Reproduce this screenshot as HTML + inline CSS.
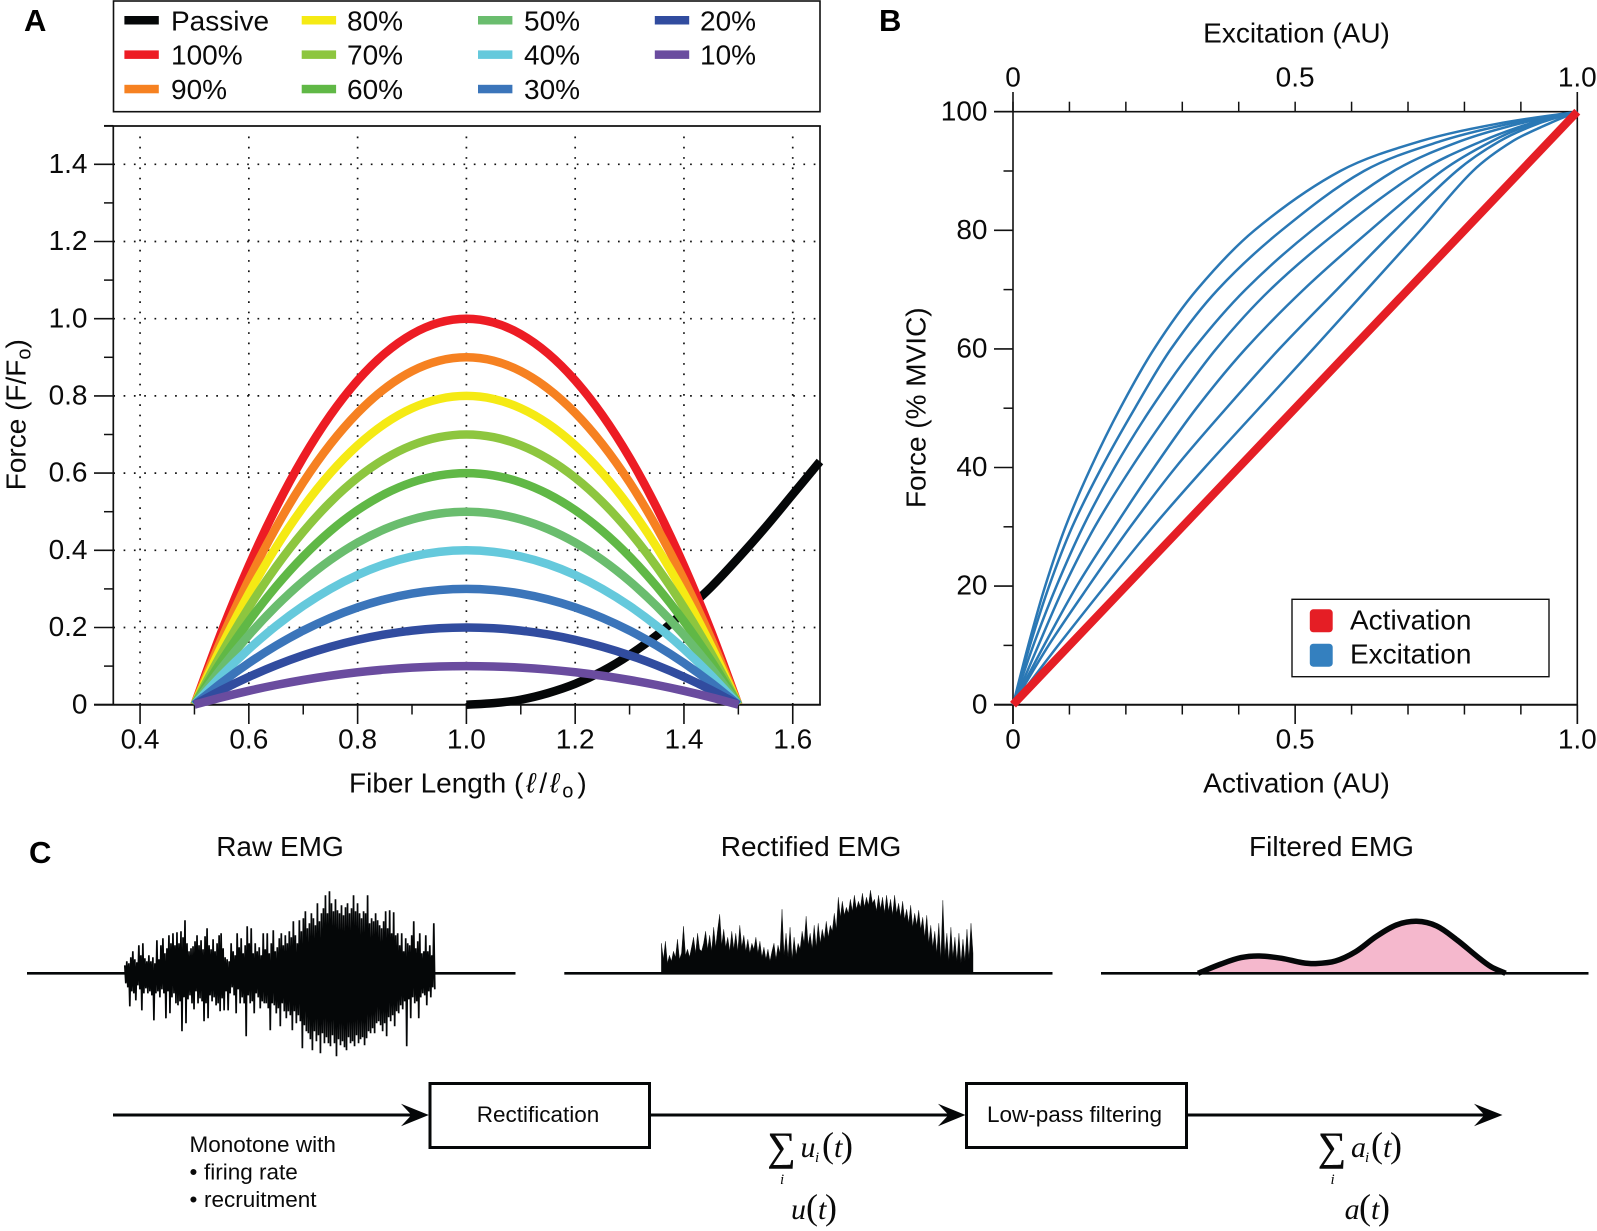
<!DOCTYPE html>
<html lang="en">
<head>
<meta charset="utf-8">
<title>Muscle force, activation and EMG processing</title>
<style>
html,body{margin:0;padding:0;background:#fff;}
body{width:1597px;height:1231px;overflow:hidden;}
svg{display:block;}
text{font-family:"Liberation Sans",sans-serif;fill:#0a0a0a;}
.t{font-size:28px;}
.panel{font-size:31px;font-weight:bold;fill:#000;}
.s{font-size:22.5px;}
.m{font-family:"Liberation Serif",serif;font-style:italic;font-size:30px;}
.p{font-family:"Liberation Serif",serif;font-size:36px;}
.sg{font-family:"Liberation Serif",serif;font-size:40px;stroke:#0a0a0a;stroke-width:0.5px;}
.sb{font-family:"Liberation Serif",serif;font-style:italic;font-size:15px;}
</style>
</head>
<body>
<svg id="fig" xmlns="http://www.w3.org/2000/svg" width="1597" height="1231" viewBox="0 0 1597 1231">
  <rect x="0" y="0" width="1597" height="1231" fill="#fff"/>

  <text class="panel" x="24" y="31">A</text>
  <text class="panel" x="879" y="31">B</text>
  <text class="panel" x="29" y="863">C</text>

  <g>
    <rect x="113.5" y="1" width="706.5" height="110.7" fill="#fff" stroke="#111" stroke-width="1.6"/>
    <rect x="124.4" y="16" width="34.4" height="8.5" fill="#050708"/>
    <text class="t" x="171" y="30.7">Passive</text>
    <rect x="124.4" y="50.4" width="34.4" height="8.5" fill="#ed1c24"/>
    <text class="t" x="171" y="64.6">100%</text>
    <rect x="124.4" y="84.8" width="34.4" height="8.5" fill="#f68121"/>
    <text class="t" x="171" y="98.8">90%</text>
    <rect x="301.7" y="16" width="34.4" height="8.5" fill="#f5ea14"/>
    <text class="t" x="347" y="30.7">80%</text>
    <rect x="301.7" y="50.4" width="34.4" height="8.5" fill="#8dc63f"/>
    <text class="t" x="347" y="64.6">70%</text>
    <rect x="301.7" y="84.8" width="34.4" height="8.5" fill="#60b846"/>
    <text class="t" x="347" y="98.8">60%</text>
    <rect x="478" y="16" width="34.4" height="8.5" fill="#6abd6e"/>
    <text class="t" x="524" y="30.7">50%</text>
    <rect x="478" y="50.4" width="34.4" height="8.5" fill="#65c9dc"/>
    <text class="t" x="524" y="64.6">40%</text>
    <rect x="478" y="84.8" width="34.4" height="8.5" fill="#3b75ba"/>
    <text class="t" x="524" y="98.8">30%</text>
    <rect x="654.8" y="16" width="34.4" height="8.5" fill="#314c9f"/>
    <text class="t" x="700" y="30.7">20%</text>
    <rect x="654.8" y="50.4" width="34.4" height="8.5" fill="#6a4c9f"/>
    <text class="t" x="700" y="64.6">10%</text>
  </g>

  <g id="panelA"></g>
  <text class="t" x="349" y="792.7">Fiber Length (<tspan font-style="italic" dx="3">ℓ</tspan><tspan dx="4">/</tspan><tspan font-style="italic" dx="3">ℓ</tspan><tspan font-size="20" dy="5" dx="3">o</tspan><tspan dy="-5" dx="4">)</tspan></text>
  <text class="t" transform="translate(25.4,414.7) rotate(-90)" text-anchor="middle">Force (F/F<tspan font-size="20" dy="5">o</tspan><tspan dy="-5">)</tspan></text>

  <g id="panelB"></g>
  <text class="t" x="1296.5" y="42.7" text-anchor="middle">Excitation (AU)</text>
  <text class="t" x="1296.5" y="792.7" text-anchor="middle">Activation (AU)</text>
  <text class="t" transform="translate(925.7,407.7) rotate(-90)" text-anchor="middle">Force (% MVIC)</text>

  <g>
    <rect x="1292" y="599.3" width="257" height="77.4" fill="#fff" stroke="#111" stroke-width="1.4"/>
    <rect x="1309.8" y="609.3" width="22.9" height="23" rx="3.5" fill="#e51e25"/>
    <text class="t" x="1350" y="629.3">Activation</text>
    <rect x="1309.8" y="643.7" width="22.9" height="23" rx="3.5" fill="#3480bf"/>
    <text class="t" x="1350" y="663.3">Excitation</text>
  </g>

  <text class="t" x="280" y="856" text-anchor="middle">Raw EMG</text>
  <text class="t" x="811" y="856" text-anchor="middle">Rectified EMG</text>
  <text class="t" x="1331.5" y="856" text-anchor="middle">Filtered EMG</text>

  <g id="panelC"></g>

  <g stroke="#050708">
    <line x1="113" y1="1115" x2="412" y2="1115" stroke-width="3"/>
    <polygon points="401,1103.7 428.8,1115 401,1126.3 411.5,1115" fill="#050708" stroke="none"/>
    <rect x="430" y="1083.5" width="219.5" height="64" fill="#fff" stroke-width="3"/>
    <line x1="650.8" y1="1115" x2="949" y2="1115" stroke-width="3"/>
    <polygon points="938,1103.7 965.5,1115 938,1126.3 948.5,1115" fill="#050708" stroke="none"/>
    <rect x="966.5" y="1083.5" width="220" height="64" fill="#fff" stroke-width="3"/>
    <line x1="1187.6" y1="1115" x2="1485" y2="1115" stroke-width="3"/>
    <polygon points="1474,1103.7 1502.5,1115 1474,1126.3 1484.5,1115" fill="#050708" stroke="none"/>
  </g>
  <text class="s" x="538" y="1122" text-anchor="middle">Rectification</text>
  <text class="s" x="1074.5" y="1122" text-anchor="middle">Low-pass filtering</text>
  <text class="s" x="189.5" y="1152">Monotone with</text>
  <text class="s" x="189.5" y="1179.5">•</text>
  <text class="s" x="204" y="1179.5">firing rate</text>
  <text class="s" x="189.5" y="1207">•</text>
  <text class="s" x="204" y="1207">recruitment</text>

  <g>
    <text class="sg" x="767.5" y="1160" textLength="28" lengthAdjust="spacingAndGlyphs">∑</text>
    <text class="m" x="800.5" y="1157">u</text>
    <text class="sb" x="815" y="1162">i</text>
    <text class="p" x="822" y="1157">(</text>
    <text class="m" x="834" y="1157">t</text>
    <text class="p" x="841" y="1157">)</text>
    <text class="sb" x="780" y="1184">i</text>
  </g>
  <g>
    <text class="m" x="791" y="1219">u</text>
    <text class="p" x="806" y="1219">(</text>
    <text class="m" x="818" y="1219">t</text>
    <text class="p" x="825" y="1219">)</text>
  </g>
  <g>
    <text class="sg" x="1318" y="1160" textLength="28" lengthAdjust="spacingAndGlyphs">∑</text>
    <text class="m" x="1351" y="1157">a</text>
    <text class="sb" x="1365" y="1162">i</text>
    <text class="p" x="1371" y="1157">(</text>
    <text class="m" x="1383" y="1157">t</text>
    <text class="p" x="1390" y="1157">)</text>
    <text class="sb" x="1330.5" y="1184">i</text>
  </g>
  <g>
    <text class="m" x="1344.6" y="1219">a</text>
    <text class="p" x="1359" y="1219">(</text>
    <text class="m" x="1371" y="1219">t</text>
    <text class="p" x="1378" y="1219">)</text>
  </g>
</svg>
<script>
// ---------- Panel A data ----------
const fiberLengths = [0.5,0.55,0.6,0.65,0.7,0.75,0.8,0.85,0.9,0.95,1,1.05,1.1,1.15,1.2,1.25,1.3,1.35,1.4,1.45,1.5];
const force100 = [0,.19,.36,.51,.64,.75,.84,.91,.96,.99,1,.99,.96,.91,.84,.75,.64,.51,.36,.19,0];
const force90 = [0,.171,.324,.459,.576,.675,.756,.819,.864,.891,.9,.891,.864,.819,.756,.675,.576,.459,.324,.171,0];
const force80 = [0,.152,.288,.408,.512,.6,.672,.728,.768,.792,.8,.792,.768,.728,.672,.6,.512,.408,.288,.152,0];
const force70 = [0,.133,.252,.357,.448,.525,.588,.637,.672,.693,.7,.693,.672,.637,.588,.525,.448,.357,.252,.133,0];
const force60 = [0,.114,.216,.306,.384,.45,.504,.546,.576,.594,.6,.594,.576,.546,.504,.45,.384,.306,.216,.114,0];
const force50 = [0,.095,.18,.255,.32,.375,.42,.455,.48,.495,.5,.495,.48,.455,.42,.375,.32,.255,.18,.095,0];
const force40 = [0,.076,.144,.204,.256,.3,.336,.364,.384,.396,.4,.396,.384,.364,.336,.3,.256,.204,.144,.076,0];
const force30 = [0,.057,.108,.153,.192,.225,.252,.273,.288,.297,.3,.297,.288,.273,.252,.225,.192,.153,.108,.057,0];
const force20 = [0,.038,.072,.102,.128,.15,.168,.182,.192,.198,.2,.198,.192,.182,.168,.15,.128,.102,.072,.038,0];
const force10 = [0,.019,.036,.051,.064,.075,.084,.091,.096,.099,.1,.099,.096,.091,.084,.075,.064,.051,.036,.019,0];
const passiveLengths = [1,1.05,1.1,1.15,1.2,1.25,1.3,1.35,1.4,1.45,1.5,1.55,1.6,1.65];
const passiveForce = [0,.004,.013,.03,.054,.087,.129,.18,.24,.305,.38,.46,.545,.63];
const lengthMajorTicks = ['0.4','0.6','0.8','1.0','1.2','1.4','1.6'];
const lengthMinorTicks = ['0.5','0.7','0.9','1.1','1.3','1.5'];
const forceMajorTicks = ['0','0.2','0.4','0.6','0.8','1.0','1.2','1.4'];
const forceMinorTicks = ['0.1','0.3','0.5','0.7','0.9','1.1','1.3','1.5'];

// ---------- Panel B data ----------
const forceLevels = [0,10,20,30,40,50,60,70,80,90,95,98,100];
const excitationCurve1 = [0,.027,.057,.093,.138,.19,.25,.326,.428,.58,.721,.86,1];
const excitationCurve2 = [0,.03,.064,.105,.157,.216,.28,.363,.476,.622,.757,.881,1];
const excitationCurve3 = [0,.036,.077,.124,.18,.245,.32,.412,.53,.675,.792,.898,1];
const excitationCurve4 = [0,.045,.091,.145,.21,.282,.36,.456,.578,.722,.83,.916,1];
const excitationCurve5 = [0,.055,.113,.18,.25,.325,.412,.515,.633,.76,.848,.922,1];
const excitationCurve6 = [0,.063,.134,.208,.288,.378,.472,.574,.677,.786,.862,.931,1];
const excitationCurve7 = [0,.08,.163,.248,.34,.436,.532,.627,.722,.815,.885,.95,1];
const activationValues = [0,1];
const activationForce = [0,100];
const activationTicks = ['0','0.5','1.0'];
const activationMinorTicks = ['0.1','0.2','0.3','0.4','0.6','0.7','0.8','0.9'];
const percentMajorTicks = ['0','20','40','60','80','100'];
const percentMinorTicks = ['10','30','50','70','90'];

// ---------- Panel C data ----------
const rawUpper = [8,12,10,16,22,14,11,28,18,30,15,12,18,12,16,10,33,14,28,35,20,25,38,30,40,28,41,30,42,36,53,30,22,25,27,32,38,28,33,24,37,45,28,24,34,22,30,38,40,25,16,14,12,30,22,18,40,26,35,20,28,47,30,45,20,30,22,26,18,40,24,40,20,30,43,22,26,35,40,28,38,30,42,36,52,38,30,53,42,55,62,45,50,60,55,48,70,52,60,65,78,60,82,70,62,74,63,60,68,58,66,70,60,65,78,62,70,60,55,62,60,78,50,55,52,60,53,48,45,52,62,45,63,40,61,38,40,28,40,22,35,30,28,38,52,25,32,40,20,22,38,22,28,18,50];
const rawLower = [10,14,33,18,20,27,12,16,37,20,15,20,18,22,47,20,18,24,16,20,45,18,40,24,20,30,32,28,58,24,50,26,22,30,36,18,30,25,28,48,30,45,22,28,24,32,30,38,25,37,18,37,20,14,22,40,16,30,24,30,63,22,30,28,40,20,24,35,28,30,30,35,57,30,32,40,35,53,30,38,45,38,42,57,38,50,42,48,75,52,58,60,66,77,58,68,62,80,60,70,64,70,73,62,70,83,66,72,68,74,77,64,70,68,73,62,70,66,64,72,65,58,60,55,60,50,48,52,58,50,63,44,48,42,53,38,40,32,36,28,73,26,45,24,30,28,45,24,20,22,32,18,24,14,16];
const rectifiedValues = [30,14,32,10,18,12,22,16,34,14,20,47,18,24,16,26,36,20,40,24,22,30,42,24,38,22,46,26,44,59,28,44,26,36,22,42,24,40,22,48,26,38,22,34,20,30,24,36,20,32,16,26,14,24,12,22,30,14,28,20,64,18,40,16,46,14,36,18,30,24,42,30,57,28,40,24,48,26,50,30,44,34,52,36,48,42,60,44,76,56,72,58,66,60,74,62,78,64,72,66,80,66,76,68,83,70,74,62,78,64,76,60,78,62,74,58,78,60,70,56,72,54,64,50,68,46,60,48,63,44,56,36,58,30,48,26,42,20,50,14,73,18,40,12,46,16,36,12,40,10,34,12,44,14,50,20];
const filteredTime = [0,.075,.14,.2,.272,.338,.382,.447,.513,.579,.645,.711,.776,.842,.908,.952,1];
const filteredAmplitude = [0,9.3,15.7,17.3,15,10.7,9.7,12.3,21.7,36.7,48.3,52,47.3,33.3,16.7,6.7,0];

// ---------- Axis functions ----------
const NS = 'http://www.w3.org/2000/svg';
const xA = v => 466.4 + (v - 1) * 543.9;
const yA = v => 704.7 - v * 386;
const xB = v => 1013 + v * 564.3;
const yB = v => 704.7 - v * 5.93;
const EMG_BASE = 973.3;
const emgY = v => EMG_BASE - v;
const rawX = i => 124.8 + i * 309 / (rawUpper.length - 1);
const rectX = i => 661.4 + i * 311.6 / (rectifiedValues.length - 1);
const filtX = t => 1198 + t * 307.6;

function mk(parent, tag, attrs, text) {
  const el = document.createElementNS(NS, tag);
  Object.keys(attrs).forEach(k => el.setAttribute(k, attrs[k]));
  if (text !== undefined) el.textContent = text;
  parent.appendChild(el);
  return el;
}
function chord(a, b) {
  return Math.hypot(b[0] - a[0], b[1] - a[1]) || 1;
}
function smooth(pts) {
  let d = 'M' + pts[0][0].toFixed(2) + ' ' + pts[0][1].toFixed(2);
  for (let i = 0; i < pts.length - 1; i++) {
    const p0 = pts[Math.max(i - 1, 0)], p1 = pts[i], p2 = pts[i + 1], p3 = pts[Math.min(i + 2, pts.length - 1)];
    const d1 = chord(p1, p2);
    const s1 = chord(p0, p1) + d1, s2 = d1 + chord(p2, p3);
    const c1x = p1[0] + (p2[0] - p0[0]) / s1 * d1 / 3, c1y = p1[1] + (p2[1] - p0[1]) / s1 * d1 / 3;
    const c2x = p2[0] - (p3[0] - p1[0]) / s2 * d1 / 3, c2y = p2[1] - (p3[1] - p1[1]) / s2 * d1 / 3;
    d += 'C' + c1x.toFixed(2) + ' ' + c1y.toFixed(2) + ' ' + c2x.toFixed(2) + ' ' + c2y.toFixed(2) + ' ' + p2[0].toFixed(2) + ' ' + p2[1].toFixed(2);
  }
  return d;
}
function line(parent, x1, y1, x2, y2, w, name) {
  const l = mk(parent, 'line', {x1: x1, y1: y1, x2: x2, y2: y2, stroke: '#111', 'stroke-width': w});
  
  
  return l;
}
function label(parent, x, y, anchor, str, name) {
  const t = mk(parent, 'text', {x: x, y: y, 'text-anchor': anchor, class: 't'}, str);
  
  
  return t;
}

// ---------- Panel A ----------
const gA = document.getElementById('panelA');
const gridA = mk(gA, 'g', {stroke: '#111', 'stroke-width': 1.7, 'stroke-dasharray': '1.7 8.6'});


lengthMajorTicks.forEach(s => {
  line(gridA, xA(+s), 704.7, xA(+s), 128, 1.7, 'vertical-gridline-' + s);
});
forceMajorTicks.slice(1).forEach(s => {
  line(gridA, 113.3, yA(+s), 820, yA(+s), 1.7, 'horizontal-gridline-' + s);
});
gridA.querySelectorAll('line').forEach(l => l.removeAttribute('stroke'));
gridA.querySelectorAll('line').forEach(l => l.removeAttribute('stroke-width'));

line(gA, 113.3, 125.5, 113.3, 705.5, 1.7, 'y-axis-line');
line(gA, 94, 704.7, 820.8, 704.7, 2, 'x-axis-line');
line(gA, 104, 126, 820.8, 126, 1.7, 'plot-top-border');
line(gA, 820, 125.5, 820, 705.5, 1.7, 'plot-right-border');
lengthMajorTicks.forEach(s => {
  line(gA, xA(+s), 704.7, xA(+s), 724, 1.6, 'x-tick-' + s);
  label(gA, xA(+s), 748.3, 'middle', s, 'x-tick-label-' + s);
});
lengthMinorTicks.forEach(s => {
  line(gA, xA(+s), 704.7, xA(+s), 714.5, 1.5, 'x-minor-tick-' + s);
});
forceMajorTicks.forEach(s => {
  line(gA, 94, yA(+s), 113.3, yA(+s), 1.6, 'y-tick-' + s);
  label(gA, 87.5, yA(+s) + 8.6, 'end', s, 'y-tick-label-' + s);
});
forceMinorTicks.forEach(s => {
  line(gA, 104, yA(+s), 113.3, yA(+s), 1.5, 'y-minor-tick-' + s);
});

const passivePath = mk(gA, 'path', {d: smooth(passiveLengths.map((v, i) => [xA(v), yA(passiveForce[i])])), fill: 'none', stroke: '#050708', 'stroke-width': 8.5});



const curve100 = mk(gA, 'path', {d: smooth(fiberLengths.map((v, i) => [xA(v), yA(force100[i])])), fill: 'none', stroke: '#ed1c24', 'stroke-width': 8.5});


const curve90 = mk(gA, 'path', {d: smooth(fiberLengths.map((v, i) => [xA(v), yA(force90[i])])), fill: 'none', stroke: '#f68121', 'stroke-width': 8.5});


const curve80 = mk(gA, 'path', {d: smooth(fiberLengths.map((v, i) => [xA(v), yA(force80[i])])), fill: 'none', stroke: '#f5ea14', 'stroke-width': 8.5});


const curve70 = mk(gA, 'path', {d: smooth(fiberLengths.map((v, i) => [xA(v), yA(force70[i])])), fill: 'none', stroke: '#8dc63f', 'stroke-width': 8.5});


const curve60 = mk(gA, 'path', {d: smooth(fiberLengths.map((v, i) => [xA(v), yA(force60[i])])), fill: 'none', stroke: '#60b846', 'stroke-width': 8.5});


const curve50 = mk(gA, 'path', {d: smooth(fiberLengths.map((v, i) => [xA(v), yA(force50[i])])), fill: 'none', stroke: '#6abd6e', 'stroke-width': 8.5});


const curve40 = mk(gA, 'path', {d: smooth(fiberLengths.map((v, i) => [xA(v), yA(force40[i])])), fill: 'none', stroke: '#65c9dc', 'stroke-width': 8.5});


const curve30 = mk(gA, 'path', {d: smooth(fiberLengths.map((v, i) => [xA(v), yA(force30[i])])), fill: 'none', stroke: '#3b75ba', 'stroke-width': 8.5});


const curve20 = mk(gA, 'path', {d: smooth(fiberLengths.map((v, i) => [xA(v), yA(force20[i])])), fill: 'none', stroke: '#314c9f', 'stroke-width': 8.5});


const curve10 = mk(gA, 'path', {d: smooth(fiberLengths.map((v, i) => [xA(v), yA(force10[i])])), fill: 'none', stroke: '#6a4c9f', 'stroke-width': 8.5});



// ---------- Panel B ----------
const gB = document.getElementById('panelB');
line(gB, 994, yB(100), 1577.3, yB(100), 1.6, 'top-axis-line');
line(gB, 994, yB(0), 1577.3, yB(0), 2, 'bottom-axis-line');
line(gB, xB(0), 92, xB(0), 724, 1.6, 'left-axis-line');
line(gB, xB(1), 92, xB(1), 724, 1.6, 'right-axis-line');
percentMajorTicks.forEach(s => {
  line(gB, 994, yB(+s), 1013, yB(+s), 1.6, 'percent-tick-' + s);
  label(gB, 987.5, yB(+s) + 8.6, 'end', s, 'percent-tick-label-' + s);
});
percentMinorTicks.forEach(s => {
  line(gB, 1003.5, yB(+s), 1013, yB(+s), 1.5, 'percent-minor-tick-' + s);
});
activationTicks.forEach(s => {
  line(gB, xB(+s), yB(0), xB(+s), 724, 1.6, 'activation-tick-' + s);
  label(gB, xB(+s), 748.3, 'middle', s, 'activation-tick-label-' + s);
  line(gB, xB(+s), yB(100) - 10, xB(+s), yB(100), 1.5, 'excitation-tick-' + s);
  label(gB, xB(+s), 86.7, 'middle', s, 'excitation-tick-label-' + s);
});
activationMinorTicks.forEach(s => {
  line(gB, xB(+s), yB(0), xB(+s), 714.5, 1.5, 'activation-minor-tick-' + s);
  line(gB, xB(+s), yB(100) - 10, xB(+s), yB(100), 1.5, 'excitation-minor-tick-' + s);
});

const exc1 = mk(gB, 'path', {d: smooth(forceLevels.map((f, i) => [xB(excitationCurve1[i]), yB(f)])), fill: 'none', stroke: '#2a78b5', 'stroke-width': 2.5});


const exc2 = mk(gB, 'path', {d: smooth(forceLevels.map((f, i) => [xB(excitationCurve2[i]), yB(f)])), fill: 'none', stroke: '#2a78b5', 'stroke-width': 2.5});


const exc3 = mk(gB, 'path', {d: smooth(forceLevels.map((f, i) => [xB(excitationCurve3[i]), yB(f)])), fill: 'none', stroke: '#2a78b5', 'stroke-width': 2.5});


const exc4 = mk(gB, 'path', {d: smooth(forceLevels.map((f, i) => [xB(excitationCurve4[i]), yB(f)])), fill: 'none', stroke: '#2a78b5', 'stroke-width': 2.5});


const exc5 = mk(gB, 'path', {d: smooth(forceLevels.map((f, i) => [xB(excitationCurve5[i]), yB(f)])), fill: 'none', stroke: '#2a78b5', 'stroke-width': 2.5});


const exc6 = mk(gB, 'path', {d: smooth(forceLevels.map((f, i) => [xB(excitationCurve6[i]), yB(f)])), fill: 'none', stroke: '#2a78b5', 'stroke-width': 2.5});


const exc7 = mk(gB, 'path', {d: smooth(forceLevels.map((f, i) => [xB(excitationCurve7[i]), yB(f)])), fill: 'none', stroke: '#2a78b5', 'stroke-width': 2.5});



const activationLine = mk(gB, 'line', {x1: xB(activationValues[0]), y1: yB(activationForce[0]), x2: xB(activationValues[1]), y2: yB(activationForce[1]), stroke: '#e51e25', 'stroke-width': 8.2});



// ---------- Panel C ----------
const gC = document.getElementById('panelC');
const base1 = line(gC, 27, EMG_BASE, 515.5, EMG_BASE, 2.7, 'raw-emg-baseline');
base1.setAttribute('stroke', '#050708');
const base2 = line(gC, 564.3, EMG_BASE, 1052.5, EMG_BASE, 2.7, 'rectified-emg-baseline');
base2.setAttribute('stroke', '#050708');

let rawD = '';
rawUpper.forEach((u, i) => {
  rawD += (i ? 'L' : 'M') + rawX(i).toFixed(2) + ' ' + emgY(u).toFixed(2);
  rawD += 'L' + (rawX(i) + 1).toFixed(2) + ' ' + emgY(-rawLower[i]).toFixed(2);
});
const rawTrace = mk(gC, 'path', {d: rawD, fill: 'none', stroke: '#050708', 'stroke-width': 1.7, 'stroke-linejoin': 'bevel'});



let rectD = 'M' + rectX(0).toFixed(2) + ' ' + EMG_BASE;
rectifiedValues.forEach((v, i) => {
  rectD += 'L' + rectX(i).toFixed(2) + ' ' + emgY(v).toFixed(2);
});
rectD += 'L' + rectX(rectifiedValues.length - 1).toFixed(2) + ' ' + EMG_BASE + 'Z';
const rectTrace = mk(gC, 'path', {d: rectD, fill: '#050708', stroke: '#050708', 'stroke-width': 0.4});



const filteredPts = filteredTime.map((t, i) => [filtX(t), emgY(filteredAmplitude[i])]);
const filteredArea = mk(gC, 'path', {d: smooth(filteredPts) + 'Z', fill: '#f5b8cd', stroke: 'none'});


const base3 = line(gC, 1101, EMG_BASE, 1588.5, EMG_BASE, 2.7, 'filtered-emg-baseline');
base3.setAttribute('stroke', '#050708');
const filteredLine = mk(gC, 'path', {d: smooth(filteredPts), fill: 'none', stroke: '#050708', 'stroke-width': 5.5});


</script>
</body>
</html>
